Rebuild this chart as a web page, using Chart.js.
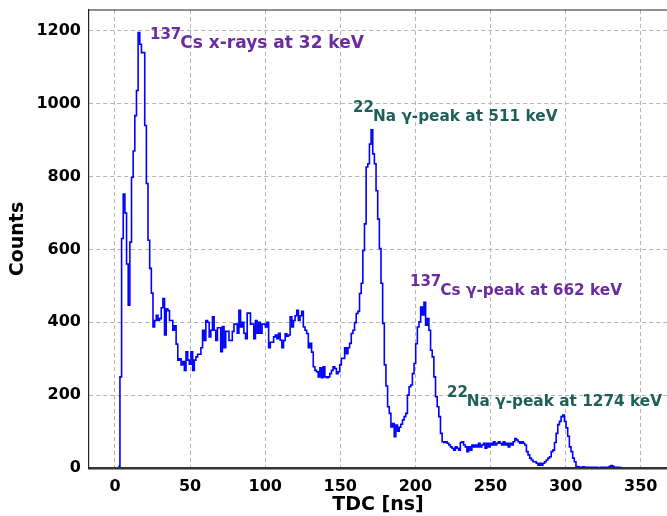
<!DOCTYPE html>
<html>
<head>
<meta charset="utf-8">
<script src="https://cdn.jsdelivr.net/npm/chart.js@4"></script>
<style>
  html, body { margin: 0; padding: 0; background: #fff; }
  canvas { display: block; }
</style>
</head>
<body>
<canvas id="tdcChart" width="667" height="516"></canvas>
<script>
// TDC spectrum, 1.1 ns bins starting at 2.2 ns
const binStart = 2.2;
const binWidth = 1.1;
const counts = [
    5, 250, 630, 752, 700, 560, 447, 620, 798, 870, 967, 1036, 1195, 1163, 1140, 1140, 940, 781, 625, 548, 480, 387, 405, 419, 405, 410, 440, 465,
    365, 437, 432, 405, 405, 378, 390, 340, 296, 300,
    283, 292, 268, 319, 296, 285, 319, 268, 296, 305,
    312, 312, 330, 378, 350, 405, 400, 360, 378, 415,
    378, 350, 385, 385, 319, 388, 330, 375, 375, 350,
    350, 375, 395, 395, 370, 433, 387, 400, 370, 355,
    425, 425, 395, 395, 355, 405, 370, 400, 370, 395,
    395, 387, 400, 330, 345, 345, 360, 365, 355, 370,
    351, 330, 350, 368, 362, 365, 415, 387, 405, 418,
    433, 405, 418, 430, 387, 378, 369, 330, 342, 318,
    278, 268, 264, 250, 275, 248, 278, 250, 248, 250,
    259, 268, 278, 273, 259, 264, 283, 301, 301, 330,
    314, 330, 342, 369, 378, 399, 424, 430, 479, 507,
    597, 670, 826, 835, 889, 928, 862, 835, 761, 683,
    602, 507, 397, 283, 225, 168, 150, 113, 122, 86,
    118, 101, 112, 120, 132, 141, 150, 200, 223, 228,
    259, 287, 341, 387, 401, 442, 420, 455, 392, 410,
    378, 323, 305, 250, 196, 168, 141, 95, 72, 70,
    72, 68, 63, 58, 54, 49, 58, 54, 49, 70,
    72, 63, 58, 45, 58, 49, 63, 58, 63, 58,
    68, 58, 63, 68, 54, 68, 58, 68, 63, 72,
    63, 68, 72, 68, 63, 72, 63, 68, 58, 68,
    63, 72, 81, 77, 72, 68, 72, 68, 63, 45,
    36, 27, 22, 17, 17, 13, 8, 13, 8, 13,
    17, 22, 27, 31, 45, 49, 70, 95, 119, 128,
    141, 145, 128, 110, 87, 58, 45, 27, 17, 4,
    3, 2, 2, 3, 2, 2, 1, 2, 2, 1,
    2, 2, 1, 1, 2, 1, 2, 1, 2, 4,
    7, 5, 2, 1, 2, 1, 1
];

const xTicks = [0, 50, 100, 150, 200, 250, 300, 350];
const yTicks = [0, 200, 400, 600, 800, 1000, 1200];

const purple = '#6a2c9f';
const teal = '#1e5f5a';

// peak labels, anchored at (ns, counts) of their left baseline
const peakLabels = [
    { sup: '137', text: 'Cs x-rays at 32 keV', x: 23.3, y: 1153, size: 17, color: purple },
    { sup: '22', text: 'Na \u03b3-peak at 511 keV', x: 158.5, y: 953, size: 15.3, color: teal },
    { sup: '137', text: 'Cs \u03b3-peak at 662 keV', x: 196.4, y: 474, size: 15.3, color: purple },
    { sup: '22', text: 'Na \u03b3-peak at 1274 keV', x: 221, y: 170, size: 15.3, color: teal }
];

const FONT = "'DejaVu Sans', sans-serif";

function histogramPoints(start, width, values) {
    const pts = values.map((v, i) => ({ x: start + i * width, y: v }));
    // closing edge of the last bin
    pts.push({ x: start + values.length * width, y: values[values.length - 1] });
    return pts;
}

const framePlugin = {
    id: 'frame',
    afterDraw(chart) {
        const { ctx, chartArea } = chart;
        ctx.save();
        ctx.strokeStyle = '#222';
        ctx.lineWidth = 1.2;
        ctx.beginPath();
        ctx.moveTo(chartArea.left, chartArea.top);
        ctx.lineTo(chartArea.right, chartArea.top);
        ctx.stroke();
        ctx.restore();
    }
};

const peakLabelPlugin = {
    id: 'peakLabels',
    afterDatasetsDraw(chart) {
        const { ctx, scales } = chart;
        ctx.save();
        ctx.textBaseline = 'alphabetic';
        ctx.textAlign = 'left';
        peakLabels.forEach(lbl => {
            const px = scales.x.getPixelForValue(lbl.x);
            const py = scales.y.getPixelForValue(lbl.y);
            ctx.fillStyle = lbl.color;
            ctx.font = 'bold 15px ' + FONT;
            ctx.fillText(lbl.sup, px, py - 9);
            const w = ctx.measureText(lbl.sup).width;
            ctx.font = 'bold ' + lbl.size + 'px ' + FONT;
            ctx.fillText(lbl.text, px + w - 1, py);
        });
        ctx.restore();
    }
};

const ctx = document.getElementById('tdcChart').getContext('2d');
new Chart(ctx, {
    type: 'line',
    data: {
        datasets: [{
            data: histogramPoints(binStart, binWidth, counts),
            borderColor: '#0000ff',
            borderWidth: 1.6,
            pointRadius: 0,
            stepped: 'before',
            fill: false
        }]
    },
    options: {
        responsive: false,
        animation: false,
        devicePixelRatio: 1,
        layout: { padding: { top: 10, right: 0, left: 0, bottom: 0 } },
        plugins: {
            legend: { display: false },
            tooltip: { enabled: false }
        },
        scales: {
            x: {
                type: 'linear',
                min: -17.3,
                max: 367.5,
                afterBuildTicks: scale => { scale.ticks = xTicks.map(v => ({ value: v })); },
                afterFit: scale => {
                    scale.height = 48;
                    scale.paddingLeft = 0;
                    scale.paddingRight = 0;
                },
                grid: { color: '#b4b4b4', lineWidth: 1, drawTicks: false },
                border: { display: true, color: '#333', width: 2.5, dash: [4, 3] },
                ticks: {
                    color: '#000',
                    padding: 9,
                    maxRotation: 0,
                    callback: v => String(v),
                    font: { family: FONT, size: 16, weight: 'bold' }
                },
                title: {
                    display: true,
                    text: 'TDC [ns]',
                    color: '#000',
                    padding: { top: 0, bottom: 0 },
                    font: { family: FONT, size: 19, weight: 'bold' }
                }
            },
            y: {
                min: 0,
                max: 1257,
                afterBuildTicks: scale => { scale.ticks = yTicks.map(v => ({ value: v })); },
                afterFit: scale => {
                    scale.width = 89;
                    scale.paddingTop = 0;
                    scale.paddingBottom = 0;
                },
                grid: { color: '#b4b4b4', lineWidth: 1, drawTicks: false },
                border: { display: true, color: '#222', width: 1.2, dash: [4, 3] },
                ticks: {
                    color: '#000',
                    padding: 8,
                    callback: v => String(v),
                    font: { family: FONT, size: 16, weight: 'bold' }
                },
                title: {
                    display: true,
                    text: 'Counts',
                    color: '#000',
                    padding: { top: 7, bottom: 0 },
                    font: { family: FONT, size: 19, weight: 'bold' }
                }
            }
        }
    },
    plugins: [framePlugin, peakLabelPlugin]
});
</script>
</body>
</html>
